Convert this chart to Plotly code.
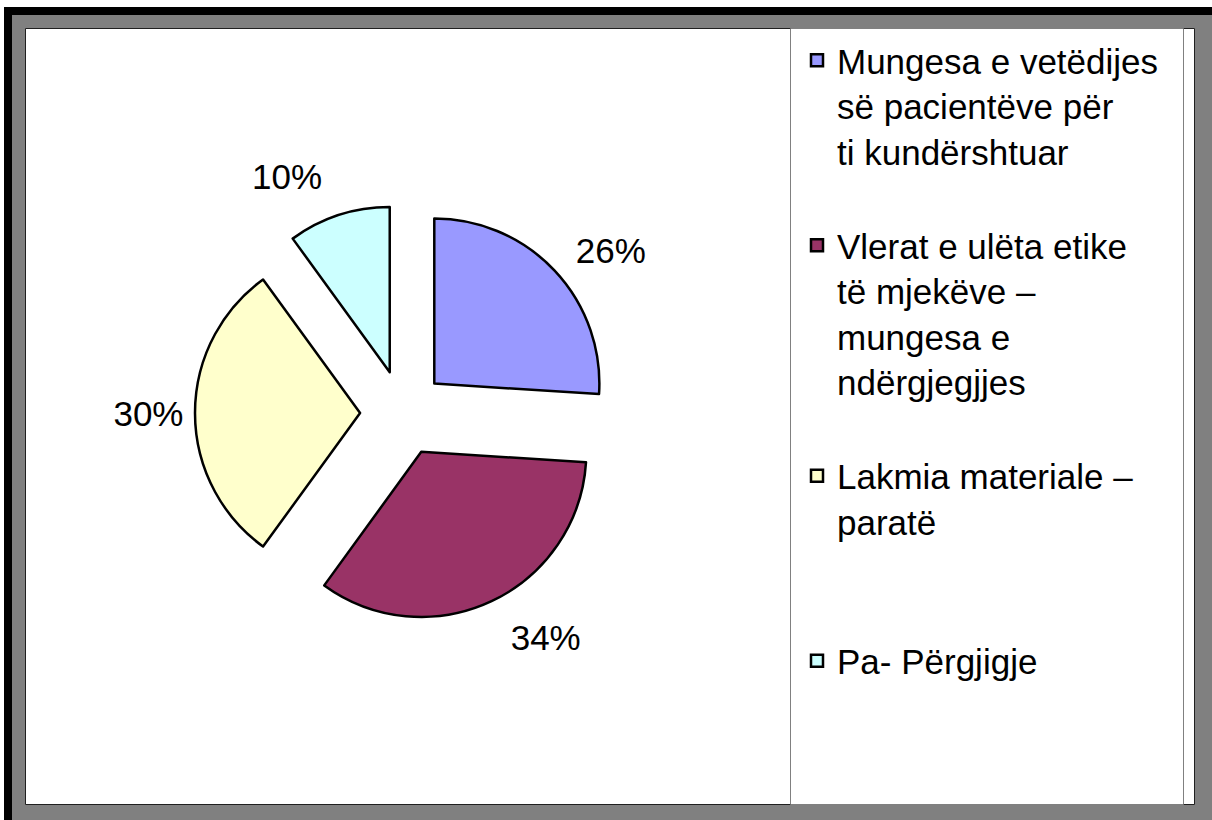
import plotly.graph_objects as go

# ---- data ----
categories = [
    "Mungesa e vetëdijes<br>së pacientëve për<br>ti kundërshtuar<br>\u00a0",
    "Vlerat e ulëta etike<br>të mjekëve –<br>mungesa e<br>ndërgjegjjes<br>\u00a0",
    "Lakmia materiale –<br>paratë<br>\u00a0<br>\u00a0",
    "Pa- Përgjigje",
]
values = [26, 34, 30, 10]
colors = ["#9999FF", "#993366", "#FFFFCC", "#CCFFFF"]
label_pull = [0.215, 0.25, 0.14, 0.25]

W, H = 1212, 820
FONT = "Liberation Sans, Arial, sans-serif"


def px(x):
    return x / W


def py(y):
    return 1 - y / H


fig = go.Figure()

# transparent companion pie that only carries the percentage labels
fig.add_trace(go.Pie(
    labels=categories,
    values=values,
    sort=False,
    direction="clockwise",
    rotation=0,
    pull=label_pull,
    marker=dict(colors=["rgba(0,0,0,0)"] * 4, line=dict(width=0)),
    textinfo="percent",
    texttemplate="%{percent:.0%}",
    textposition="outside",
    textfont=dict(family=FONT, size=35, color="black"),
    domain=dict(x=[px(403 - 230), px(403 + 230)], y=[py(413 + 230), py(413 - 230)]),
    showlegend=False,
    hoverinfo="skip",
))

# main exploded pie
fig.add_trace(go.Pie(
    labels=categories,
    values=values,
    sort=False,
    direction="clockwise",
    rotation=0,
    pull=0.26,
    marker=dict(colors=colors, line=dict(color="black", width=2.5)),
    textinfo="none",
    domain=dict(x=[px(195), px(611)], y=[py(621), py(205)]),
    hoverinfo="label+percent",
))

shapes = [
    dict(type="rect", xref="paper", yref="paper", x0=px(4), x1=1, y0=0, y1=py(7),
         fillcolor="black", line=dict(width=0), layer="below"),
    dict(type="rect", xref="paper", yref="paper", x0=px(12), x1=1, y0=0, y1=py(15),
         fillcolor="#808080", line=dict(width=0), layer="below"),
    dict(type="rect", xref="paper", yref="paper", x0=px(25.5), x1=px(1194.5), y0=py(804.5), y1=py(28.5),
         fillcolor="white", line=dict(color="#202020", width=1), layer="below"),
    dict(type="rect", xref="paper", yref="paper", x0=px(790.5), x1=px(1183.5), y0=py(804.5), y1=py(28.5),
         fillcolor="rgba(0,0,0,0)", line=dict(color="#808080", width=1), layer="below"),
]

fig.update_layout(
    width=W, height=H,
    margin=dict(l=0, r=0, t=0, b=0),
    paper_bgcolor="white",
    plot_bgcolor="white",
    shapes=shapes,
    showlegend=True,
    legend=dict(
        x=px(797), y=py(31), xanchor="left", yanchor="top",
        valign="top",
        font=dict(family=FONT, size=35, color="black"),
        bgcolor="rgba(0,0,0,0)", borderwidth=0,
    ),
)

fig.write_html(
    "out.html",
    config={"displayModeBar": False},
    post_script="document.body.style.margin='0';",
)
